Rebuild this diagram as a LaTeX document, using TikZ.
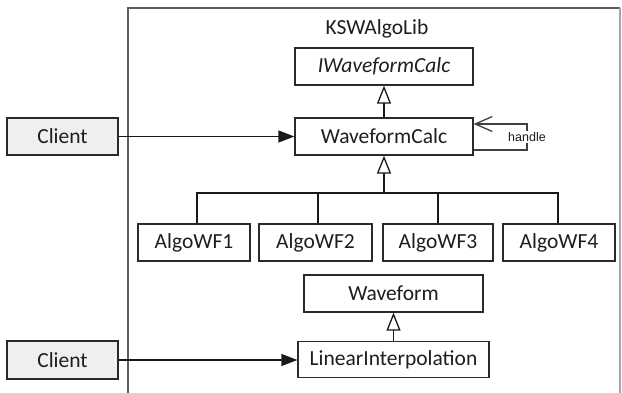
\documentclass[tikz,border=0pt]{standalone}
\usepackage{fontspec}
\setmainfont{Carlito}
\newfontfamily\handlefont{Liberation Sans}
\usetikzlibrary{arrows.meta,calc}
\definecolor{txt}{HTML}{1E1E1E}
\definecolor{boxline}{HTML}{2A2A2A}
\definecolor{clientfill}{HTML}{EFEFEF}
\definecolor{framecol}{HTML}{5E5E5E}
\begin{document}
\begin{tikzpicture}[x=1pt,y=-1pt,
  cls/.style={draw=boxline, line width=1.3pt, fill=white, minimum height=37pt, inner sep=0pt,
    font=\fontsize{21.5}{24}\selectfont, text=txt},
  client/.style={cls, fill=clientfill},
  conn/.style={line width=1.3pt, draw=black!90},
  inh/.style={conn, -{Triangle[open, length=18pt, width=14pt, fill=white]}},
  assoc/.style={conn, -{Triangle[length=16pt, width=12pt]}},
  selfarr/.style={conn, draw=black!75, -{Straight Barb[length=17pt, width=15pt]}},
]
\useasboundingbox (0,0) rectangle (622,393);
% package frame
\draw[framecol, line width=2pt] (128,393) -- (128,8) -- (620,8);
\draw[black!35, line width=1.4pt] (620,8) -- (620,393);
\node[anchor=base, font=\fontsize{21.5}{24}\selectfont, text=txt] (lib) at (377,35) {KSWAlgoLib};

% classes
\node[cls, minimum width=178pt, font=\fontsize{21.5}{24}\selectfont\itshape] (iwfc) at (384,66.5) {IWaveformCalc};
\node[cls, minimum width=178pt] (wfc) at (384,136.5) {WaveformCalc};
\node[cls, minimum width=112pt] (a1) at (194,242.5) {AlgoWF1};
\node[cls, minimum width=113pt] (a2) at (315.5,242.5) {AlgoWF2};
\node[cls, minimum width=110pt] (a3) at (438,242.5) {AlgoWF3};
\node[cls, minimum width=112pt] (a4) at (559,242.5) {AlgoWF4};
\node[cls, minimum width=179pt] (wf) at (393.5,293.5) {Waveform};
\node[cls, minimum width=191pt, minimum height=36pt] (li) at (393.5,359.5) {LinearInterpolation};

% clients
\node[client, minimum width=111pt] (c1) at (62.5,136.5) {Client};
\node[client, minimum width=111pt, minimum height=38pt] (c2) at (62.5,360) {Client};

% inheritance
\draw[inh] (wfc) -- (iwfc);
\coordinate (bus) at (384,193);
\draw[conn] ([xshift=3pt]a1.north) |- (bus);
\draw[conn] ([xshift=2.5pt]a2.north) |- (bus);
\draw[conn] (a3.north) |- (bus);
\draw[conn] ([xshift=-1pt]a4.north) |- (bus);
\draw[inh] (bus) -- (wfc.south);
\draw[inh] (li) -- (wf);

% associations
\draw[assoc] (c1) -- (wfc);
\draw[assoc] (c2.east) -- (c2.east -| li.west);

% self association
\coordinate (lp) at (527,137);
\draw[selfarr] ($(wfc.east)+(0,13.5)$) -| (lp) |- ($(wfc.east)+(0,-12.5)$);
\node[fill=white, inner sep=1pt, font=\handlefont\fontsize{12.5}{14}\selectfont, text=txt] (hl) at (lp) {handle};
\end{tikzpicture}
\end{document}
